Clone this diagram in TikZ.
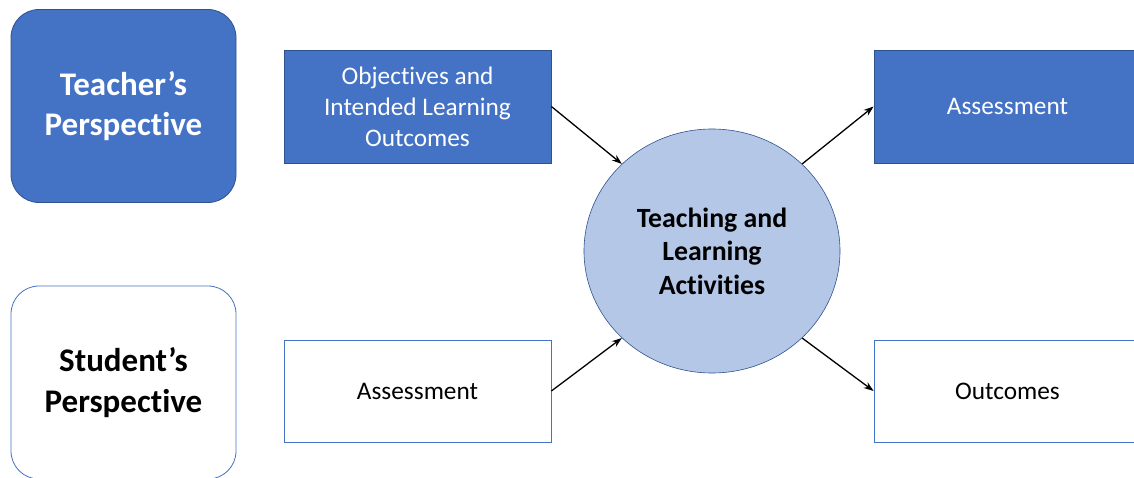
\documentclass[tikz,border=0pt]{standalone}
\usepackage{fontspec}
\setmainfont[Ligatures={NoCommon,NoContextual},RawFeature={-calt;-dlig}]{Carlito}
\usetikzlibrary{shapes.geometric,arrows.meta}
\definecolor{darkfill}{HTML}{4472C4}
\definecolor{darkline}{HTML}{2F528F}
\definecolor{lightfill}{HTML}{B4C7E7}
\tikzset{
  view/.style={rounded corners=28pt, minimum width=225pt, minimum height=193pt, inner sep=0pt,
    align=center, line width=0.8pt, font=\fontsize{33}{40.5}\selectfont\bfseries},
  teacherbox/.style={view, fill=darkfill, draw=darkline, text=white},
  studentbox/.style={view, fill=white, draw=darkfill},
  stage/.style={minimum width=267pt, inner sep=0pt, align=center, line width=0.8pt,
    font=\fontsize{25.3}{31}\selectfont},
  darkstage/.style={stage, fill=darkfill, draw=darkline, text=white, minimum height=113pt},
  lightstage/.style={stage, fill=white, draw=darkfill, minimum height=102pt},
  hub/.style={ellipse, minimum width=256pt, minimum height=244pt, inner sep=0pt, fill=lightfill,
    draw=darkline, line width=0.6pt, align=center, font=\fontsize{27.8}{33.5}\selectfont\bfseries},
  flow/.style={-{Stealth[length=10pt,width=7pt]}, line width=1.3pt}
}
\begin{document}
\begin{tikzpicture}[x=1pt,y=1pt]
  \fill[white] (0,0) rectangle (1134,477);
  \useasboundingbox (0,0) rectangle (1134,477);
  \clip (0,0) rectangle (1134,477);
  % perspectives
  \node[teacherbox] (teacher) at (123.5,371) {Teacher’s\\Perspective};
  \node[studentbox] (student) at (123.5,94.5) {Student’s\\Perspective};
  % stages
  \node[darkstage] (objectives) at (417.5,370.5) {Objectives and\\Intended Learning\\Outcomes};
  \node[lightstage] (assessin) at (417.5,86) {Assessment};
  \node[hub] (tla) at (712,226) {Teaching and\\Learning\\Activities};
  \node[darkstage] (assessout) at (1007.5,370.5) {Assessment};
  \node[lightstage] (outcomes) at (1007.5,86) {Outcomes};
  % arrows
  \draw[flow] (objectives.east) -- (tla.136);
  \draw[flow] (assessin.east) -- (tla.224);
  \draw[flow] (tla.44) -- (assessout.west);
  \draw[flow] (tla.316) -- (outcomes.west);
\end{tikzpicture}
\end{document}
